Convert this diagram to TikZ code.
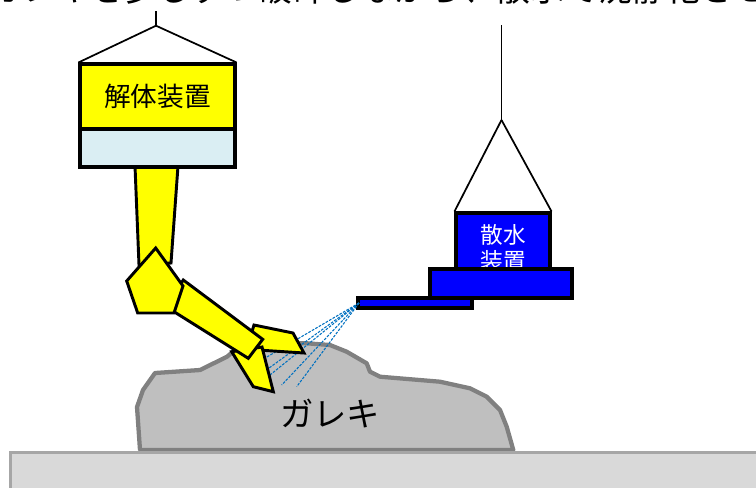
\documentclass[tikz,border=0pt]{standalone}
\usepackage{fontspec}
\setmainfont{Noto Sans CJK JP}
\definecolor{armyellow}{HTML}{FFFF00}
\definecolor{headblue}{HTML}{DAEEF3}
\definecolor{tankblue}{HTML}{0000FF}
\definecolor{sprayblue}{HTML}{0070C0}
\definecolor{rockfill}{HTML}{BFBFBF}
\definecolor{rockline}{HTML}{808080}
\definecolor{groundfill}{HTML}{D9D9D9}
\definecolor{groundline}{HTML}{A6A6A6}
\begin{document}
\begin{tikzpicture}[x=0.75pt,y=-0.75pt,
  part/.style={draw=black,line width=2.2pt,line join=miter,fill=armyellow},
  unitbox/.style={draw=black,line width=2.3pt,rectangle,inner sep=0pt},
  hanger/.style={draw=black,line width=1.3pt},
  spray/.style={draw=sprayblue,line width=0.8pt,dash pattern=on 2pt off 1pt},
  rock/.style={draw=rockline,fill=rockfill,line width=3.2pt,line join=round},
  ground/.style={draw=groundline,fill=groundfill,line width=2.25pt}]
\useasboundingbox (0,0) rectangle (756,487);

% caption line running off the top edge
\node[anchor=base,font=\fontsize{25.5}{30}\selectfont,inner sep=0pt] (caption) at (378,1)
  {ガレキを少しずつ破砕しながら、散水で沈静化させ};

% floor
\path[ground] (10,452) rectangle (775,500);

% rubble heap
\path[rock] (140,450) -- (137,407) -- (143,390) -- (155,373) -- (200,370)
  -- (210,365) -- (217,361.7) -- (227,356.7) -- (233,351.7) -- (250,346)
  -- (280,343) -- (306.7,343.3) -- (330,345) -- (346.7,351.7) -- (366.7,363.3)
  -- (370,371.7) -- (380,376.7) -- (440,381.7) -- (470,388.3) -- (486.7,396.7)
  -- (500,410) -- (506.7,426.7) -- (513.3,450) -- cycle;
\path[ground,fill=none] (10,452) -- (775,452);
\node[font=\fontsize{25}{28}\selectfont] (rubble) at (330,414) {ガレキ};

% water sprayer
\node[unitbox,fill=tankblue,minimum width=85.5pt,minimum height=7.5pt] (nozzle) at (415,303) {};
\coordinate (jet) at (359,303);
\foreach \ex/\ey in {261.7/360,261.7/373.3,261.7/381.7,281.7/385,296.7/386.7}
  \draw[spray] (jet) -- (\ex,\ey);
\node[unitbox,fill=tankblue,minimum width=70.5pt,minimum height=42pt] (tank) at (503,241) {};
\node[text=white,font=\fontsize{17}{20}\selectfont,align=center,inner sep=0pt] (tanklabel) at (503,248) {散水\\装置};
\node[unitbox,fill=tankblue,minimum width=106.5pt,minimum height=21.75pt] (base) at (501,283.5) {};
\coordinate (hookB) at (501.5,120);
\coordinate (ropeB) at (501.5,25);
\draw[hanger] (ropeB) -- (hookB);
\draw[hanger] (hookB) -- (tank.north west);
\draw[hanger] (hookB) -- (tank.north east);

% demolition arm: jaws, forearm, boom, elbow
\path[part] (254,325) -- (293,333) -- (304,353) -- (258,350) -- (250,338) -- cycle;
\path[part] (231.7,351.7) -- (262,347) -- (273.3,391.7) -- (253.3,386.7) -- cycle;
\path[part] (183.3,280) -- (262.7,339.3) -- (248.3,358.3) -- (174,311.7) -- (170,300) -- cycle;
\path[part] (135,166) -- (178,166) -- (171,263) -- (139,265) -- cycle;
\path[part] (155.7,248) -- (183,286) -- (174,313) -- (137.7,313) -- (126.7,281) -- cycle;

% demolition head
\node[unitbox,fill=armyellow,minimum width=116.25pt,minimum height=48.75pt,
  font=\fontsize{20}{24}\selectfont] (head) at (157.5,96.5) {解体装置};
\node[unitbox,fill=headblue,minimum width=116.25pt,minimum height=28.5pt] (cutter) at (157.5,148) {};
\coordinate (hookA) at (156,25.7);
\coordinate (ropeA) at (156,11);
\draw[hanger] (ropeA) -- (hookA);
\draw[hanger] (hookA) -- (head.north west);
\draw[hanger] (hookA) -- (head.north east);
\end{tikzpicture}
\end{document}
